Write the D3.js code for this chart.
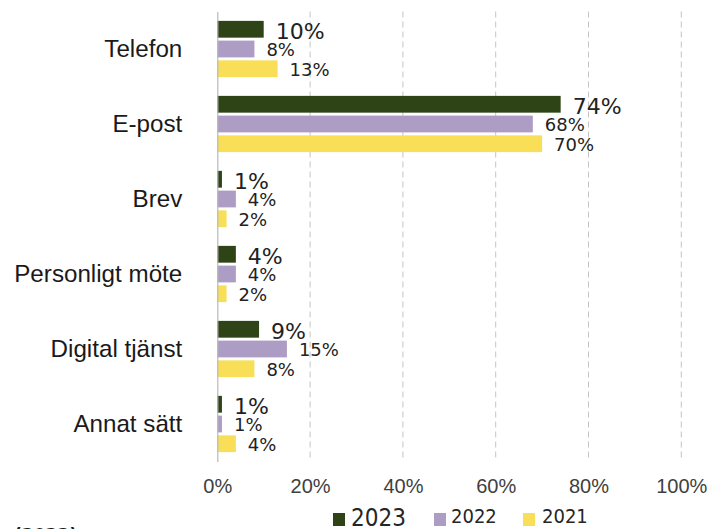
<!DOCTYPE html>
<html>
<head>
<meta charset="utf-8">
<script src="https://cdn.jsdelivr.net/npm/d3@7"></script>
<style>
  html, body { margin: 0; padding: 0; background: #fff; }
  svg { display: block; font-family: "DejaVu Sans Condensed", "DejaVu Sans", sans-serif; font-stretch: condensed; }
  .value-label { font-family: "DejaVu Sans", sans-serif; font-stretch: normal; }
</style>
</head>
<body>
<svg id="chart" width="711" height="529"></svg>
<script>
// Contact channels, share of respondents per survey year (%)
const categories = ["Telefon", "E-post", "Brev", "Personligt möte", "Digital tjänst", "Annat sätt"];
const years = ["2023", "2022", "2021"];
const values2023 = [10, 74, 1, 4, 9, 1];
const values2022 = [8, 68, 4, 4, 15, 1];
const values2021 = [13, 70, 2, 2, 8, 4];
const xTicks = [0, 20, 40, 60, 80, 100];
const footnote = "(2023)";

const seriesByYear = { "2023": values2023, "2022": values2022, "2021": values2021 };
const colors = { "2023": "#2f4416", "2022": "#ad9cc4", "2021": "#f9df57" };

const svg = d3.select("#chart");
svg.append("rect").attr("width", 711).attr("height", 529).attr("fill", "#fff");

const x = d3.scaleLinear().domain([0, 100]).range([217.3, 681.3]);
const y = d3.scaleBand().domain(categories).range([11.5, 461.5])
  .paddingInner(0.25).paddingOuter(0.125);
const ySub = d3.scaleBand().domain(years).range([0, y.bandwidth()]).paddingInner(0.15);

const [plotTop, plotBottom] = y.range();

// dashed vertical gridlines
svg.append("g")
  .selectAll("line")
  .data(xTicks.filter(t => t > 0))
  .join("line")
  .attr("x1", d => x(d)).attr("x2", d => x(d))
  .attr("y1", plotTop).attr("y2", plotBottom)
  .attr("stroke", "#c4c4c4")
  .attr("stroke-width", 1)
  .attr("stroke-dasharray", "6,4");

// bars
const rows = [];
categories.forEach((c, i) => {
  years.forEach(yr => rows.push({ cat: c, year: yr, value: seriesByYear[yr][i] }));
});

svg.append("g")
  .selectAll("rect")
  .data(rows)
  .join("rect")
  .attr("x", x(0))
  .attr("y", d => y(d.cat) + ySub(d.year))
  .attr("width", d => x(d.value) - x(0))
  .attr("height", ySub.bandwidth())
  .attr("fill", d => colors[d.year]);

// value labels
svg.append("g")
  .selectAll("text")
  .data(rows)
  .join("text")
  .attr("class", "value-label")
  .attr("x", d => x(d.value) + 12)
  .attr("y", d => y(d.cat) + ySub(d.year) + ySub.bandwidth() / 2 + (d.year === "2023" ? 10 : 7))
  .attr("font-size", d => d.year === "2023" ? 22 : 18)
  .attr("fill", "#222")
  .text(d => d.value + "%");

// category axis
const yAxis = svg.append("g")
  .attr("transform", `translate(${x(0)},0)`)
  .call(d3.axisLeft(y).tickSize(0).tickPadding(35).tickSizeOuter(0));
yAxis.select(".domain").attr("stroke", "#b8b8b8").attr("stroke-width", 1.2);
yAxis.selectAll("text")
  .attr("font-size", 24.2)
  .attr("font-family", null)
  .attr("fill", "#1a1a1a");

// value axis
const xAxis = svg.append("g")
  .attr("transform", `translate(0,${plotBottom})`)
  .call(d3.axisBottom(x).tickValues(xTicks).tickSize(0).tickPadding(17).tickFormat(d => d + "%"));
xAxis.select(".domain").remove();
xAxis.selectAll("text")
  .attr("font-size", 20)
  .attr("font-family", null)
  .attr("fill", "#404040");

// legend
const legendItems = [
  { year: "2023", sq: 333, tx: 351, size: 24, base: 526 },
  { year: "2022", sq: 434, tx: 451, size: 20, base: 523 },
  { year: "2021", sq: 523, tx: 542, size: 20, base: 523 }
];
const legend = svg.append("g");
legend.selectAll("rect")
  .data(legendItems)
  .join("rect")
  .attr("x", d => d.sq).attr("y", 513)
  .attr("width", 12).attr("height", 13)
  .attr("fill", d => colors[d.year]);
legend.selectAll("text")
  .data(legendItems)
  .join("text")
  .attr("x", d => d.tx).attr("y", d => d.base)
  .attr("font-size", d => d.size)
  .attr("fill", "#262626")
  .text(d => d.year);

// source note along the lower edge
svg.append("text")
  .attr("x", 14).attr("y", 542)
  .attr("font-size", 19)
  .attr("font-weight", "bold")
  .attr("fill", "#1a1a1a")
  .text(footnote);
</script>
</body>
</html>
